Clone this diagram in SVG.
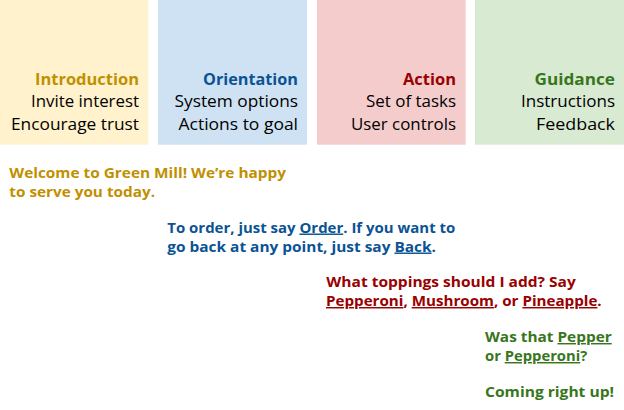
<svg xmlns="http://www.w3.org/2000/svg" width="624" height="410" viewBox="0 0 624 410">
<style>
.h{font-family:"Open Sans","Liberation Sans",sans-serif;font-weight:700;font-size:16.5px;text-anchor:end}
.r{font-family:"Open Sans","Liberation Sans",sans-serif;font-weight:400;font-size:16px;fill:#000;text-anchor:end}
.b{font-family:"Open Sans","Liberation Sans",sans-serif;font-weight:700;font-size:14.5px}
.u{text-decoration:underline}
</style>
<rect width="624" height="410" fill="#fff"/>
<g id="intro"><rect x="0" y="0" width="148.3" height="144.7" fill="#fff2cc"/>
<text class="h" x="139" y="85" fill="#bf9000" textLength="104" lengthAdjust="spacingAndGlyphs">Introduction</text>
<text class="r" x="139" y="107" textLength="108" lengthAdjust="spacingAndGlyphs">Invite interest</text>
<text class="r" x="139" y="129.5" textLength="128" lengthAdjust="spacingAndGlyphs">Encourage trust</text></g>
<g id="orient"><rect x="158" y="0" width="149" height="144.7" fill="#cfe2f3"/>
<text class="h" x="298" y="85" fill="#0b5394" textLength="95" lengthAdjust="spacingAndGlyphs">Orientation</text>
<text class="r" x="298" y="107" textLength="123.5" lengthAdjust="spacingAndGlyphs">System options</text>
<text class="r" x="298" y="129.5" textLength="119.5" lengthAdjust="spacingAndGlyphs">Actions to goal</text></g>
<g id="action"><rect x="317" y="0" width="148.7" height="144.7" fill="#f4cccc"/>
<text class="h" x="456" y="85" fill="#990000" textLength="53" lengthAdjust="spacingAndGlyphs">Action</text>
<text class="r" x="456" y="107" textLength="90" lengthAdjust="spacingAndGlyphs">Set of tasks</text>
<text class="r" x="456" y="129.5" textLength="105" lengthAdjust="spacingAndGlyphs">User controls</text></g>
<g id="guide"><rect x="475" y="0" width="149" height="144.7" fill="#d9ead3"/>
<text class="h" x="615" y="85" fill="#38761d" textLength="80.5" lengthAdjust="spacingAndGlyphs">Guidance</text>
<text class="r" x="615" y="107" textLength="94" lengthAdjust="spacingAndGlyphs">Instructions</text>
<text class="r" x="615" y="129.5" textLength="79" lengthAdjust="spacingAndGlyphs">Feedback</text></g>
<g id="msg1" fill="#bf9000"><text class="b" x="9.3" y="178.3" textLength="276.7" lengthAdjust="spacingAndGlyphs">Welcome to Green Mill! We’re happy</text>
<text class="b" x="9.3" y="197" textLength="145.7" lengthAdjust="spacingAndGlyphs">to serve you today.</text></g>
<g id="msg2" fill="#0b5394"><text class="b" x="167.3" y="232.5" textLength="288" lengthAdjust="spacingAndGlyphs">To order, just say <tspan class="u">Order</tspan>. If you want to</text>
<text class="b" x="167.3" y="251.5" textLength="268.7" lengthAdjust="spacingAndGlyphs">go back at any point, just say <tspan class="u">Back</tspan>.</text></g>
<g id="msg3" fill="#990000"><text class="b" x="326.3" y="287" textLength="249.5" lengthAdjust="spacingAndGlyphs">What toppings should I add? Say</text>
<text class="b" x="326" y="306" textLength="275.7" lengthAdjust="spacingAndGlyphs"><tspan class="u">Pepperoni</tspan>, <tspan class="u">Mushroom</tspan>, or <tspan class="u">Pineapple</tspan>.</text></g>
<g id="msg4" fill="#38761d"><text class="b" x="485" y="342" textLength="126.7" lengthAdjust="spacingAndGlyphs">Was that <tspan class="u">Pepper</tspan></text>
<text class="b" x="485" y="361" textLength="102.3" lengthAdjust="spacingAndGlyphs">or <tspan class="u">Pepperoni</tspan>?</text>
<text class="b" x="485" y="397" textLength="129" lengthAdjust="spacingAndGlyphs">Coming right up!</text></g>
</svg>
